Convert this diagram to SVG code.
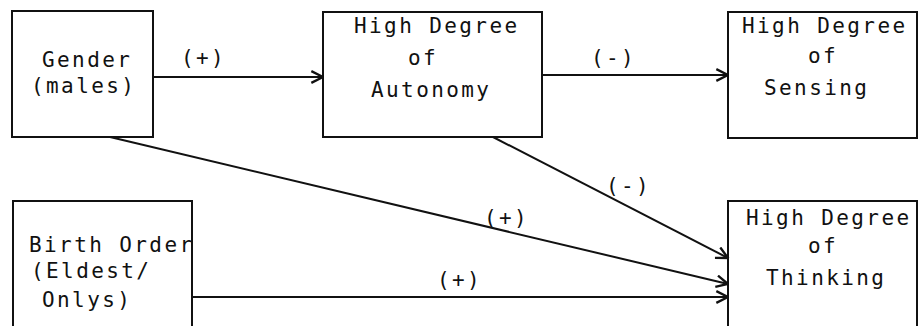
<svg xmlns="http://www.w3.org/2000/svg" width="922" height="326" viewBox="0 0 922 326">
  <style>
    .box { fill: none; stroke: #111; stroke-width: 2; }
    .lbl { font-family: "DejaVu Sans Mono", "Liberation Mono", monospace; font-size: 21px; letter-spacing: 2.4px; fill: #111; }
    .edge { fill: none; stroke: #111; stroke-width: 2; marker-end: url(#arr); }
  </style>
  <defs>
    <marker id="arr" markerUnits="userSpaceOnUse" markerWidth="14" markerHeight="14" viewBox="0 0 12 12" refX="11" refY="6" orient="auto">
      <path d="M1,1 L11,6 L1,11" fill="none" stroke="#111" stroke-width="2"/>
    </marker>
  </defs>
  <rect width="922" height="326" fill="#fff"/>

  <g id="gender">
    <rect class="box" x="12" y="11" width="141" height="126"/>
    <text class="lbl" x="42" y="67">Gender</text>
    <text class="lbl" x="31" y="93">(males)</text>
  </g>

  <g id="autonomy">
    <rect class="box" x="323" y="12" width="219" height="125"/>
    <text class="lbl" x="354" y="33">High Degree</text>
    <text class="lbl" x="408" y="65">of</text>
    <text class="lbl" x="371" y="97">Autonomy</text>
  </g>

  <g id="sensing">
    <rect class="box" x="728" y="12" width="189" height="126"/>
    <text class="lbl" x="742" y="33">High Degree</text>
    <text class="lbl" x="808" y="63">of</text>
    <text class="lbl" x="764" y="95">Sensing</text>
  </g>

  <g id="birthorder">
    <rect class="box" x="13" y="201" width="179" height="140"/>
    <text class="lbl" x="29" y="252">Birth Order</text>
    <text class="lbl" x="31" y="278">(Eldest/</text>
    <text class="lbl" x="42" y="307">Onlys)</text>
  </g>

  <g id="thinking">
    <rect class="box" x="728" y="201" width="189" height="140"/>
    <text class="lbl" x="746" y="225">High Degree</text>
    <text class="lbl" x="808" y="253">of</text>
    <text class="lbl" x="766" y="285">Thinking</text>
  </g>

  <g id="connectors">
    <path class="edge" d="M153,77 L323,77"/>
    <path class="edge" d="M542,75 L728,75"/>
    <path class="edge" d="M110,137 L728,284"/>
    <path class="edge" d="M493,137 L728,258"/>
    <path class="edge" d="M192,297 L728,297"/>
    <text class="lbl" x="181" y="65">(+)</text>
    <text class="lbl" x="591" y="65">(-)</text>
    <text class="lbl" x="606" y="193">(-)</text>
    <text class="lbl" x="484" y="225">(+)</text>
    <text class="lbl" x="437" y="287">(+)</text>
  </g>
</svg>
